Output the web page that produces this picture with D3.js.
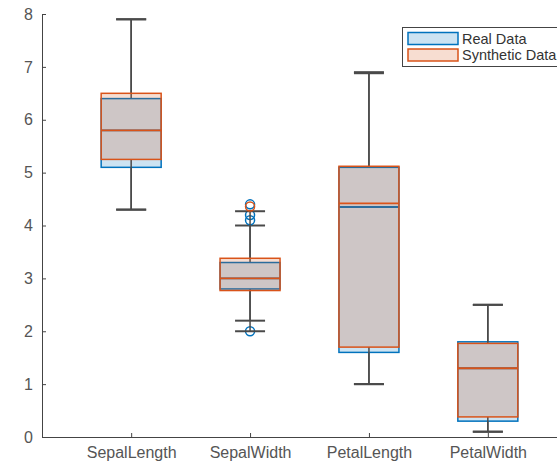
<!DOCTYPE html>
<meta charset="utf-8">
<head>
<style>
body { margin: 0; background: #fff; }
svg { display: block; font-family: "Liberation Sans", Arial, sans-serif; }
.axis text { fill: #555; font-size: 16px; }
.axis path, .axis line { stroke: #444; }
</style>
</head>
<body>
<div id="chart"></div>
<script src="https://d3js.org/d3.v7.min.js"></script>
<script>
// categories and box stats
var categories = ["SepalLength", "SepalWidth", "PetalLength", "PetalWidth"];

var realQ1  = [5.1, 2.8, 1.6, 0.3];
var realMed = [5.8, 3.0, 4.35, 1.3];
var realQ3  = [6.4, 3.3, 5.1, 1.8];
var realLo  = [4.3, 2.2, 1.0, 0.1];
var realHi  = [7.9, 4.0, 6.9, 2.5];
var realOut = [[], [4.4, 4.2, 4.1, 2.0], [], []];

var synQ1  = [5.25, 2.77, 1.7, 0.38];
var synMed = [5.8, 3.0, 4.42, 1.3];
var synQ3  = [6.5, 3.38, 5.12, 1.77];
var synLo  = [4.3, 2.0, 1.0, 0.1];
var synHi  = [7.9, 4.27, 6.88, 2.5];
var synOut = [[], [4.36], [], []];

var yTicks = [0, 1, 2, 3, 4, 5, 6, 7, 8];

var W = 557, H = 464;
var svg = d3.select("#chart").append("svg")
  .attr("width", W).attr("height", H);

var x = d3.scaleLinear().domain([0.25, 4.75]).range([42, 577]);
var y = d3.scaleLinear().domain([0, 8]).range([437, 14]);

// axes
svg.append("g").attr("class", "axis")
  .attr("transform", "translate(0,437)")
  .call(d3.axisBottom(x).tickValues([1, 2, 3, 4])
    .tickFormat(function(d) { return categories[d - 1]; })
    .tickSize(-4).tickSizeOuter(0).tickPadding(10));

svg.append("g").attr("class", "axis")
  .attr("transform", "translate(42,0)")
  .call(d3.axisLeft(y).tickValues(yTicks)
    .tickSize(-4).tickSizeOuter(0).tickPadding(9));

svg.selectAll(".axis text").attr("font-family", null).attr("font-size", null);

var boxHalf = 30, capHalf = 15;

function drawSeries(q1, med, q3, lo, hi, out, color) {
  var rows = categories.map(function(c, i) {
    return {i: i + 1, q1: q1[i], med: med[i], q3: q3[i], lo: lo[i], hi: hi[i], out: out[i]};
  });
  var g = svg.append("g");

  // whiskers
  g.selectAll(".wh").data(rows).enter().append("line")
    .attr("x1", function(d) { return x(d.i); })
    .attr("x2", function(d) { return x(d.i); })
    .attr("y1", function(d) { return y(d.hi); })
    .attr("y2", function(d) { return y(d.q3); })
    .attr("stroke", "#4a4a4a").attr("stroke-width", 1.5);
  g.selectAll(".wl").data(rows).enter().append("line")
    .attr("x1", function(d) { return x(d.i); })
    .attr("x2", function(d) { return x(d.i); })
    .attr("y1", function(d) { return y(d.lo); })
    .attr("y2", function(d) { return y(d.q1); })
    .attr("stroke", "#4a4a4a").attr("stroke-width", 1.5);
  // caps
  ["hi", "lo"].forEach(function(k) {
    g.selectAll(".cap" + k).data(rows).enter().append("line")
      .attr("x1", function(d) { return x(d.i) - capHalf; })
      .attr("x2", function(d) { return x(d.i) + capHalf; })
      .attr("y1", function(d) { return y(d[k]); })
      .attr("y2", function(d) { return y(d[k]); })
      .attr("stroke", "#4a4a4a").attr("stroke-width", 2);
  });

  // boxes
  g.selectAll("rect").data(rows).enter().append("rect")
    .attr("x", function(d) { return x(d.i) - boxHalf; })
    .attr("width", boxHalf * 2)
    .attr("y", function(d) { return y(d.q3); })
    .attr("height", function(d) { return y(d.q1) - y(d.q3); })
    .attr("fill", color).attr("fill-opacity", 0.2)
    .attr("stroke", color).attr("stroke-width", 1.5);

  // medians
  g.selectAll(".med").data(rows).enter().append("line")
    .attr("x1", function(d) { return x(d.i) - boxHalf; })
    .attr("x2", function(d) { return x(d.i) + boxHalf; })
    .attr("y1", function(d) { return y(d.med); })
    .attr("y2", function(d) { return y(d.med); })
    .attr("stroke", color).attr("stroke-width", 1.8);

  // outliers
  var pts = [];
  rows.forEach(function(d) { d.out.forEach(function(v) { pts.push({i: d.i, v: v}); }); });
  g.selectAll("circle").data(pts).enter().append("circle")
    .attr("cx", function(d) { return x(d.i); })
    .attr("cy", function(d) { return y(d.v); })
    .attr("r", 4.5)
    .attr("fill", "none").attr("stroke", color).attr("stroke-width", 1.5);
}

drawSeries(realQ1, realMed, realQ3, realLo, realHi, realOut, "#0072BD");
drawSeries(synQ1, synMed, synQ3, synLo, synHi, synOut, "#D95319");

// legend
var legend = svg.append("g");
legend.append("rect")
  .attr("x", 402.5).attr("y", 27.5).attr("width", 200).attr("height", 39)
  .attr("fill", "#fff").attr("stroke", "#444").attr("stroke-width", 1);
var legendItems = [["Real Data", "#0072BD"], ["Synthetic Data", "#D95319"]];
legendItems.forEach(function(it, k) {
  legend.append("rect")
    .attr("x", 408).attr("y", 32.5 + k * 16.5).attr("width", 50).attr("height", 12)
    .attr("fill", it[1]).attr("fill-opacity", 0.2)
    .attr("stroke", it[1]).attr("stroke-width", 1.5);
  legend.append("text")
    .attr("x", 462).attr("y", 43.5 + k * 16.5)
    .attr("font-size", "14.5px").attr("fill", "#333")
    .text(it[0]);
});
</script>
</body>
